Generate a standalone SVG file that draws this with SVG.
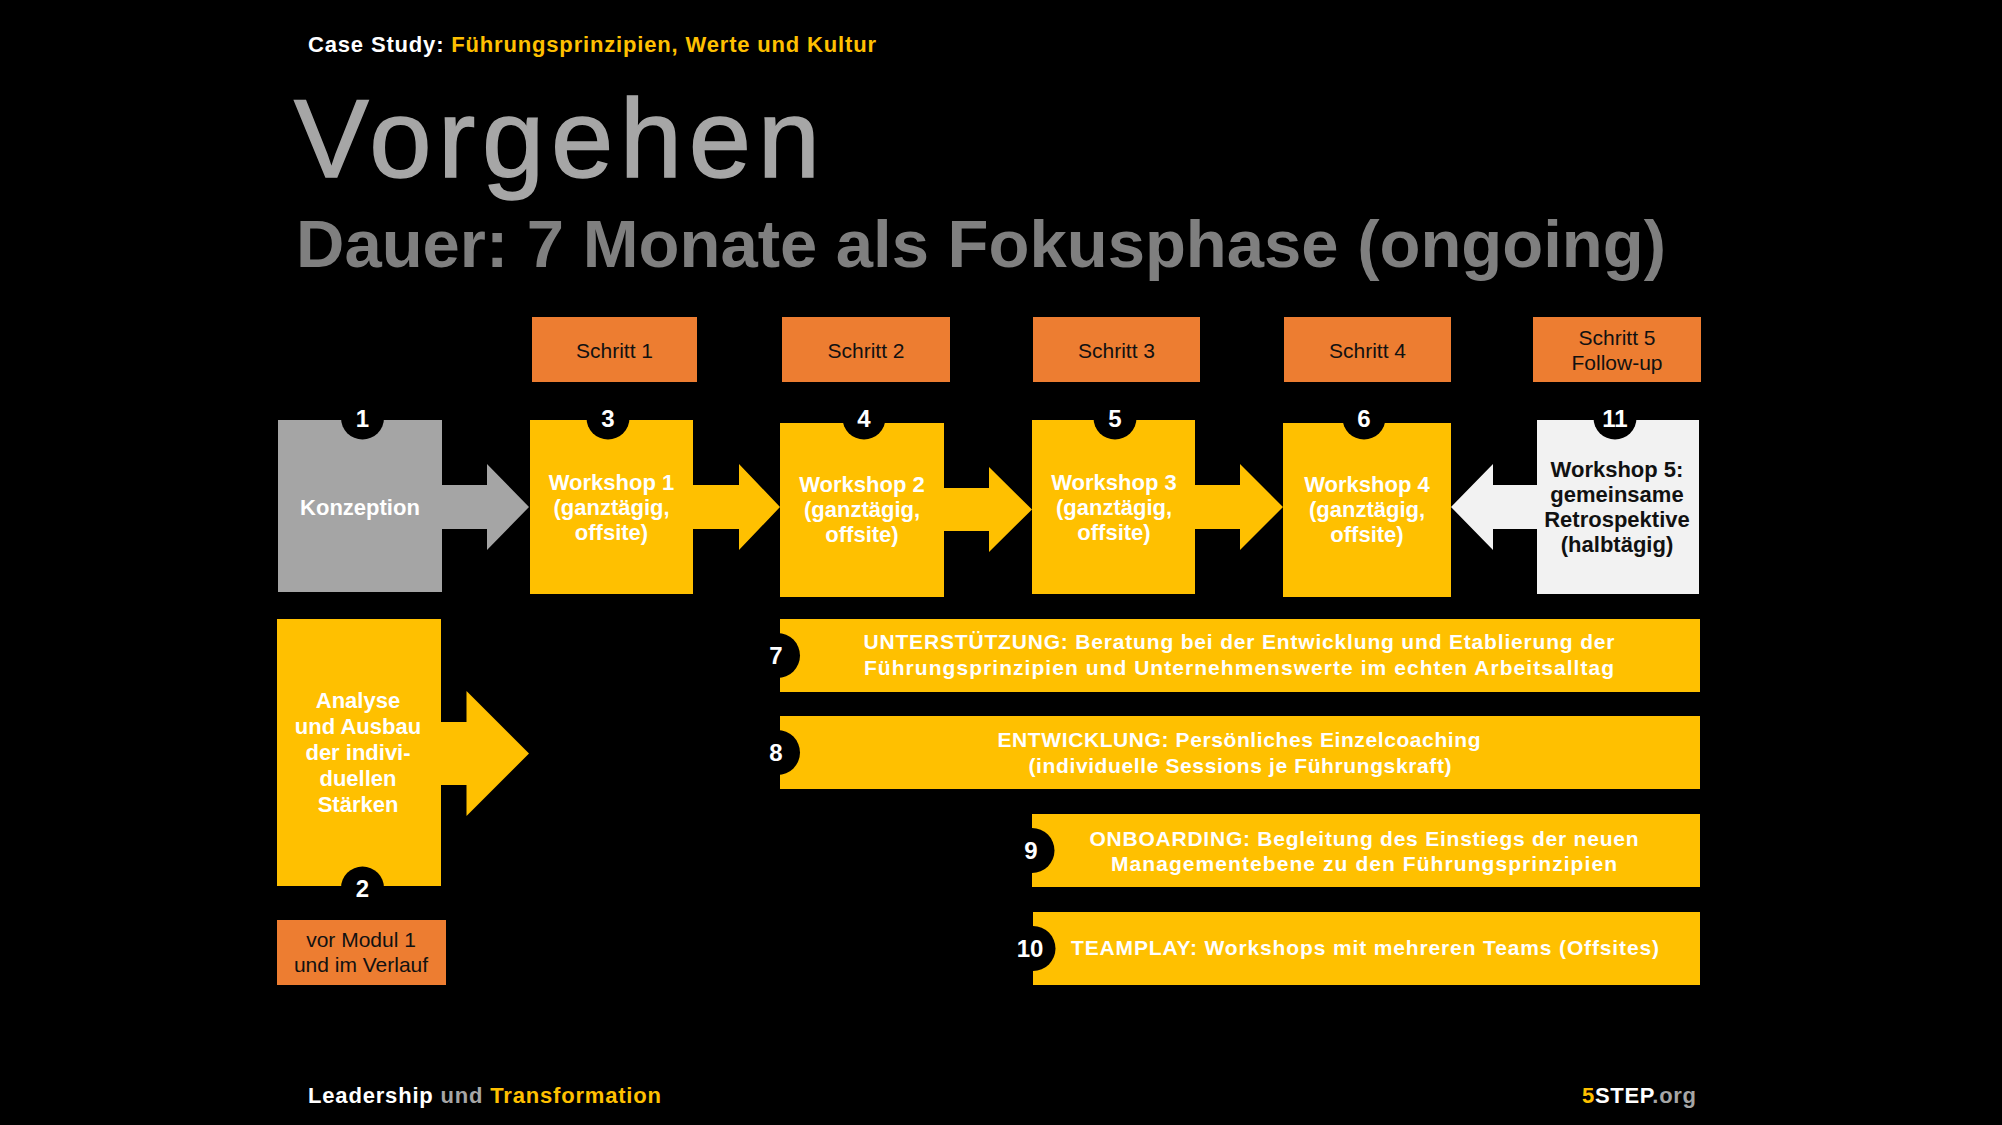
<svg xmlns="http://www.w3.org/2000/svg" width="2002" height="1125" viewBox="0 0 2002 1125">
<style>
text{font-family:"Liberation Sans",Arial,"DejaVu Sans",sans-serif}
.bw{font-weight:700;font-size:22px;fill:#ffffff;text-anchor:middle}
.bk{font-weight:700;font-size:22px;fill:#111111;text-anchor:middle}
.step{font-weight:400;font-size:21px;fill:#111111;text-anchor:middle}
.num{font-weight:700;font-size:24px;fill:#ffffff;text-anchor:middle}
.band{font-weight:700;font-size:21px;fill:#ffffff;text-anchor:middle}
.yel{fill:#FFC000}
.org{fill:#ED7D31}
.notch{fill:#000000}
</style>
<rect x="0" y="0" width="2002" height="1125" fill="#000000"/>

<g id="header">
<text x="308" y="52" font-size="22" font-weight="700" textLength="568" lengthAdjust="spacing"><tspan fill="#ffffff">Case Study: </tspan><tspan fill="#FFC000">Führungsprinzipien, Werte und Kultur</tspan></text>
<text x="294" y="177" font-size="112" font-weight="400" fill="#A6A6A6" stroke="#A6A6A6" stroke-width="1.5" textLength="526" lengthAdjust="spacing">Vorgehen</text>
<text x="296" y="267" font-size="67" font-weight="700" fill="#7F7F7F" textLength="1370" lengthAdjust="spacing">Dauer: 7 Monate als Fokusphase (ongoing)</text>
</g>

<g id="steps">
<g id="schritt1"><rect class="org" x="532" y="317" width="165" height="65"/><text class="step" x="614.5" y="358">Schritt 1</text></g>
<g id="schritt2"><rect class="org" x="782" y="317" width="168" height="65"/><text class="step" x="866" y="358">Schritt 2</text></g>
<g id="schritt3"><rect class="org" x="1033" y="317" width="167" height="65"/><text class="step" x="1116.5" y="358">Schritt 3</text></g>
<g id="schritt4"><rect class="org" x="1284" y="317" width="167" height="65"/><text class="step" x="1367.5" y="358">Schritt 4</text></g>
<g id="schritt5"><rect class="org" x="1533" y="317" width="168" height="65"/><text class="step" x="1617" y="345">Schritt 5<tspan x="1617" dy="25">Follow-up</tspan></text></g>
</g>

<g id="connectors">
<polygon fill="#A5A5A5" points="442,485 487,485 487,464 529,507 487,550 487,529 442,529"/>
<polygon class="yel" points="693,485 739,485 739,464 780,507 739,550 739,529 693,529"/>
<polygon class="yel" points="944,488 989,488 989,467 1032,509.5 989,552 989,531 944,531"/>
<polygon class="yel" points="1195,485 1240,485 1240,464 1283,507 1240,550 1240,529 1195,529"/>
<polygon fill="#F2F2F2" points="1537,485 1493,485 1493,464 1451,507 1493,550 1493,529 1537,529"/>
<polygon class="yel" points="441,722 466.5,722 466.5,691 529,753.5 466.5,816 466.5,785 441,785"/>
</g>

<g id="n1">
<rect fill="#A5A5A5" x="278" y="420" width="164" height="172"/>
<circle class="notch" cx="362.5" cy="418" r="21.5"/>
<text class="num" x="362.5" y="427">1</text>
<text class="bw" x="360" y="515">Konzeption</text>
</g>
<g id="n3">
<rect class="yel" x="530" y="420" width="163" height="174"/>
<circle class="notch" cx="608" cy="418" r="21.5"/>
<text class="num" x="608" y="427">3</text>
<text class="bw" x="611.5" y="490">Workshop 1<tspan x="611.5" dy="25">(ganztägig,</tspan><tspan x="611.5" dy="25">offsite)</tspan></text>
</g>
<g id="n4">
<rect class="yel" x="780" y="423" width="164" height="174"/>
<circle class="notch" cx="864" cy="418" r="21.5"/>
<text class="num" x="864" y="427">4</text>
<text class="bw" x="862" y="492">Workshop 2<tspan x="862" dy="25">(ganztägig,</tspan><tspan x="862" dy="25">offsite)</tspan></text>
</g>
<g id="n5">
<rect class="yel" x="1032" y="420" width="163" height="174"/>
<circle class="notch" cx="1115" cy="418" r="21.5"/>
<text class="num" x="1115" y="427">5</text>
<text class="bw" x="1114" y="490">Workshop 3<tspan x="1114" dy="25">(ganztägig,</tspan><tspan x="1114" dy="25">offsite)</tspan></text>
</g>
<g id="n6">
<rect class="yel" x="1283" y="423" width="168" height="174"/>
<circle class="notch" cx="1364" cy="418" r="21.5"/>
<text class="num" x="1364" y="427">6</text>
<text class="bw" x="1367" y="492">Workshop 4<tspan x="1367" dy="25">(ganztägig,</tspan><tspan x="1367" dy="25">offsite)</tspan></text>
</g>
<g id="n11">
<rect fill="#F2F2F2" x="1537" y="420" width="162" height="174"/>
<circle class="notch" cx="1615" cy="418" r="21.5"/>
<text class="num" x="1615" y="427">11</text>
<text class="bk" x="1617" y="477">Workshop 5:<tspan x="1617" dy="25">gemeinsame</tspan><tspan x="1617" dy="25">Retrospektive</tspan><tspan x="1617" dy="25">(halbtägig)</tspan></text>
</g>

<g id="n2">
<rect class="yel" x="277" y="619" width="164" height="267"/>
<circle class="notch" cx="362.5" cy="888" r="21.5"/>
<text class="num" x="362.5" y="897">2</text>
<text class="bw" x="358" y="708">Analyse<tspan x="358" dy="26">und Ausbau</tspan><tspan x="358" dy="26">der indivi-</tspan><tspan x="358" dy="26">duellen</tspan><tspan x="358" dy="26">Stärken</tspan></text>
</g>
<g id="timing">
<rect class="org" x="277" y="920" width="169" height="65"/>
<text class="step" x="361" y="947">vor Modul 1<tspan x="361" dy="25">und im Verlauf</tspan></text>
</g>

<g id="n7">
<rect class="yel" x="780" y="619" width="920" height="73"/>
<circle class="notch" cx="777.5" cy="655.5" r="22.5"/>
<text class="num" x="776" y="664">7</text>
<text class="band" x="1239" y="649"><tspan x="1239" textLength="751" lengthAdjust="spacing">UNTERSTÜTZUNG: Beratung bei der Entwicklung und Etablierung der</tspan><tspan x="1239" dy="26" textLength="750" lengthAdjust="spacing">Führungsprinzipien und Unternehmenswerte im echten Arbeitsalltag</tspan></text>
</g>
<g id="n8">
<rect class="yel" x="780" y="716" width="920" height="73"/>
<circle class="notch" cx="777.5" cy="752.5" r="22.5"/>
<text class="num" x="776" y="761">8</text>
<text class="band" x="1239" y="747"><tspan x="1239" textLength="483" lengthAdjust="spacing">ENTWICKLUNG: Persönliches Einzelcoaching</tspan><tspan x="1240" dy="26" textLength="423" lengthAdjust="spacing">(individuelle Sessions je Führungskraft)</tspan></text>
</g>
<g id="n9">
<rect class="yel" x="1032" y="814" width="668" height="73"/>
<circle class="notch" cx="1032" cy="850.5" r="22.5"/>
<text class="num" x="1031" y="859">9</text>
<text class="band" x="1364" y="846"><tspan x="1364" textLength="549" lengthAdjust="spacing">ONBOARDING: Begleitung des Einstiegs der neuen</tspan><tspan x="1364" dy="25" textLength="506" lengthAdjust="spacing">Managementebene zu den Führungsprinzipien</tspan></text>
</g>
<g id="n10">
<rect class="yel" x="1033" y="912" width="667" height="73"/>
<circle class="notch" cx="1033" cy="948.5" r="22.5"/>
<text class="num" x="1030" y="957">10</text>
<text class="band" x="1365" y="955" textLength="588" lengthAdjust="spacing">TEAMPLAY: Workshops mit mehreren Teams (Offsites)</text>
</g>

<g id="footer">
<text x="308" y="1103" font-size="22" font-weight="700" textLength="353" lengthAdjust="spacing"><tspan fill="#ffffff">Leadership </tspan><tspan fill="#A6A6A6">und </tspan><tspan fill="#FFC000">Transformation</tspan></text>
<text x="1582" y="1103" font-size="22" font-weight="700" textLength="114" lengthAdjust="spacing"><tspan fill="#FFC000">5</tspan><tspan fill="#ffffff">STEP</tspan><tspan fill="#A6A6A6">.org</tspan></text>
</g>
</svg>
